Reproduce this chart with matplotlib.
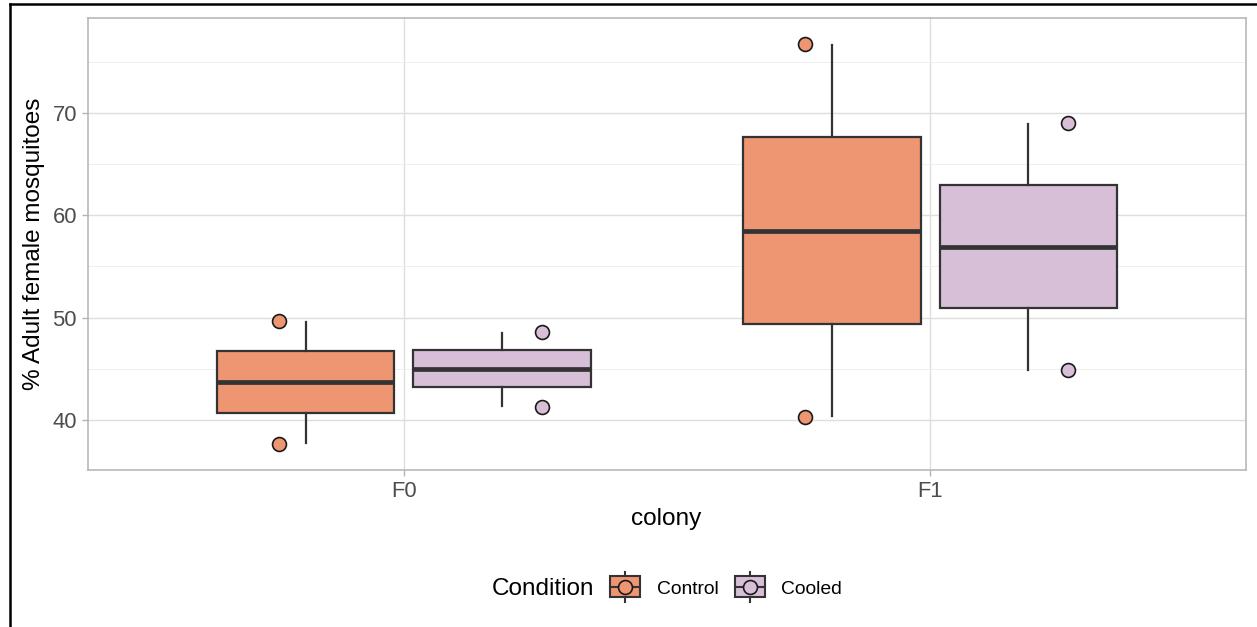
import matplotlib
matplotlib.use('Agg')
import matplotlib.pyplot as plt
from matplotlib.lines import Line2D
from matplotlib.patches import Rectangle

plt.rcParams['font.family'] = ['Liberation Sans', 'DejaVu Sans']

# ---------------- data ----------------
colonies = ['F0', 'F1']
conditions = ['Control', 'Cooled']

control_whislo = [37.8, 40.4]
control_q1 = [40.7, 49.4]
control_med = [43.7, 58.5]
control_q3 = [46.7, 67.6]
control_whishi = [49.6, 76.6]

cooled_whislo = [41.4, 44.9]
cooled_q1 = [43.2, 50.9]
cooled_med = [45.0, 56.9]
cooled_q3 = [46.8, 62.9]
cooled_whishi = [48.5, 68.9]

control_points_high = [49.7, 76.7]
control_points_low = [37.7, 40.3]
cooled_points_high = [48.6, 69.0]
cooled_points_low = [41.3, 44.9]

y_ticks = [40, 50, 60, 70]
y_minor = [45, 55, 65, 75]

# ---------------- style ----------------
W, H = 1257, 627
fill = {'Control': '#EE9572', 'Cooled': '#D8BFD8'}
edge = '#333333'
pt_edge = '#1A1A1A'

fig = plt.figure(figsize=(W / 100, H / 100), dpi=100)
fig.patch.set_facecolor('white')

def fx(x):
    return x / W

def fy(y):
    return 1 - y / H

ax = fig.add_axes([fx(88), fy(470), fx(1246) - fx(88), fy(18) - fy(470)])

box_off = {'Control': -0.1866, 'Cooled': 0.1866}
pt_off = {'Control': -0.238, 'Cooled': 0.262}
box_w = 0.337

series = {
    'Control': (control_whislo, control_q1, control_med, control_q3, control_whishi,
                control_points_high, control_points_low),
    'Cooled': (cooled_whislo, cooled_q1, cooled_med, cooled_q3, cooled_whishi,
               cooled_points_high, cooled_points_low),
}

for cond in conditions:
    lo, q1, med, q3, hi, ph, pl = series[cond]
    stats = []
    for i in range(len(colonies)):
        stats.append(dict(whislo=lo[i], q1=q1[i], med=med[i], q3=q3[i], whishi=hi[i], fliers=[]))
    pos = [i + box_off[cond] for i in range(len(colonies))]
    ax.bxp(stats, positions=pos, widths=box_w, patch_artist=True, showcaps=False,
           showfliers=False,
           boxprops=dict(facecolor=fill[cond], edgecolor=edge, linewidth=1.6),
           whiskerprops=dict(color=edge, linewidth=1.6),
           medianprops=dict(color=edge, linewidth=3.4, solid_capstyle='butt'),
           zorder=3)
    xp = [i + pt_off[cond] for i in range(len(colonies))]
    ax.plot(xp, ph, 'o', ms=10, mfc=fill[cond], mec=pt_edge, mew=1.2, ls='none', zorder=4)
    ax.plot(xp, pl, 'o', ms=10, mfc=fill[cond], mec=pt_edge, mew=1.2, ls='none', zorder=4)

ax.set_xlim(-0.6, 1.6)
ax.set_ylim(35.12, 79.25)
ax.set_xticks(range(len(colonies)))
ax.set_xticklabels(colonies)
ax.set_yticks(y_ticks)
ax.set_yticks(y_minor, minor=True)
ax.tick_params(axis='both', which='major', length=4.5, width=1.0, color='#B3B3B3',
               labelcolor='#4D4D4D', labelsize=15.8, pad=3.5)
ax.tick_params(axis='y', which='minor', length=0)
ax.grid(which='major', axis='both', color='#DEDEDE', linewidth=1.0, zorder=0)
ax.grid(which='minor', axis='y', color='#EDEDED', linewidth=0.6, zorder=0)
ax.set_axisbelow(True)
for s in ax.spines.values():
    s.set_color('#B3B3B3')
    s.set_linewidth(1.1)

# axis titles
fig.text(fx(666.5), fy(525), 'colony', ha='center', va='baseline', fontsize=17.6, color='black')
fig.text(fx(34), fy(244), '% Adult female mosquitoes', ha='center', va='center',
         rotation=90, fontsize=17.5, color='black')

# legend (drawn manually, ggplot style)
fig.text(fx(491.7), fy(595), 'Condition', ha='left', va='baseline', fontsize=17.5, color='black')
key_centers = {'Control': 625, 'Cooled': 749.7}
label_left = {'Control': 656.7, 'Cooled': 781}
for cond in conditions:
    cx = key_centers[cond]
    fig.add_artist(Line2D([fx(cx), fx(cx)], [fy(571.5), fy(602)], color=edge, lw=1.5,
                          transform=fig.transFigure, zorder=1))
    fig.add_artist(Rectangle((fx(cx - 15), fy(597)), fx(30), fy(576) - fy(597),
                             facecolor=fill[cond], edgecolor=edge, lw=1.5,
                             transform=fig.transFigure, zorder=2))
    fig.add_artist(Line2D([fx(cx - 15), fx(cx + 15)], [fy(586.5), fy(586.5)], color=edge, lw=1.5,
                          transform=fig.transFigure, zorder=3))
    fig.add_artist(Line2D([fx(cx)], [fy(586.5)], marker='o', ms=10, mfc=fill[cond], mec=pt_edge,
                          mew=1.2, ls='none', transform=fig.transFigure, zorder=4))
    fig.text(fx(label_left[cond]), fy(594), cond, ha='left', va='baseline', fontsize=13.9,
             color='black')

# outer frame (top and left edges visible in reference)
fig.add_artist(Line2D([fx(10), fx(W)], [fy(4.3), fy(4.3)], color='black', lw=1.8,
                      transform=fig.transFigure))
fig.add_artist(Line2D([fx(10), fx(10)], [fy(4.3), fy(H)], color='black', lw=1.8,
                      transform=fig.transFigure))

fig.savefig('out.png', dpi=100, facecolor='white')
